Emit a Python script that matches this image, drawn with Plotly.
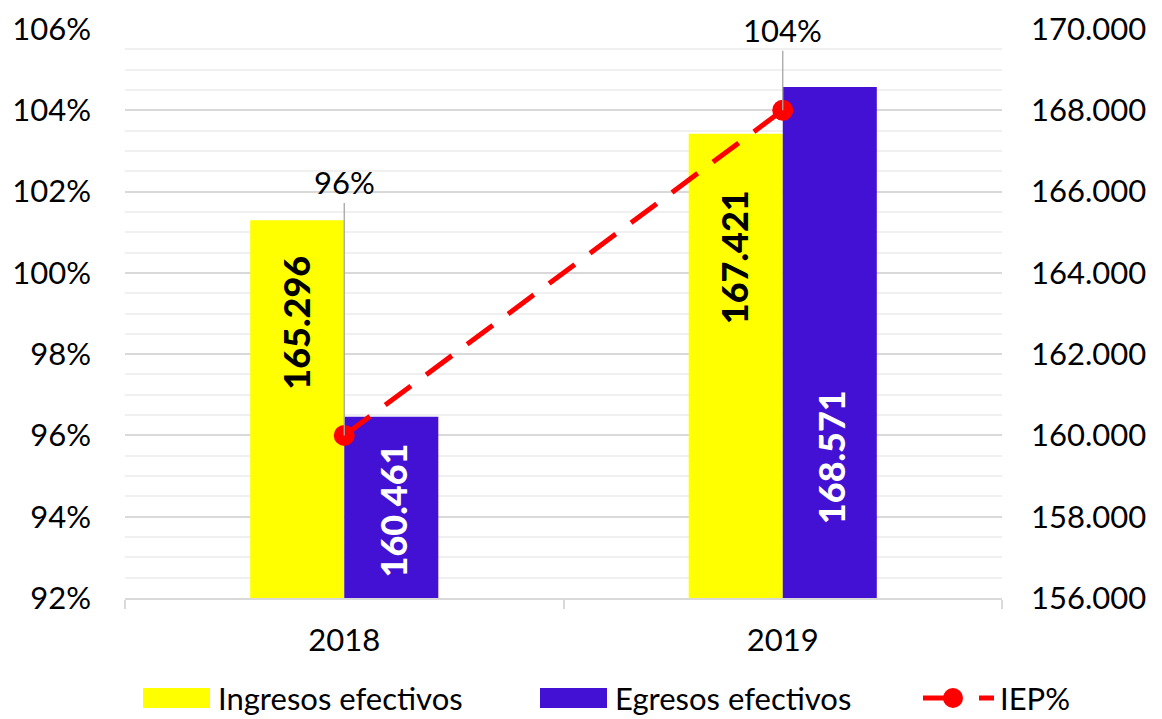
import plotly.graph_objects as go

years = ["2018", "2019"]
ingresos = [165296, 167421]
egresos = [160461, 168571]
iep = [0.96, 1.04]
iep_labels = ["96%", "104%"]

# label anchor positions (right-axis units) for the rotated bar labels
ing_label_pos = [162780, 164380]
egr_label_pos = [158160, 159460]

FONT = "Lato"
YELLOW = "#FFFF00"
BLUE = "#4311D3"
RED = "#FF0000"

fig = go.Figure()
fig.add_trace(go.Bar(x=years, y=ingresos, name="Ingresos efectivos", marker_color=YELLOW,
                     marker_line_width=0, yaxis="y"))
fig.add_trace(go.Bar(x=years, y=egresos, name="Egresos efectivos", marker_color=BLUE,
                     marker_line_width=0, yaxis="y"))
fig.add_trace(go.Scatter(x=years, y=iep, name="IEP%", mode="lines+markers", yaxis="y2",
                         line=dict(color=RED, width=5, dash="32px,19px"),
                         marker=dict(color=RED, size=21)))

annotations = []
for i, yr in enumerate(years):
    annotations.append(dict(x=i, y=ing_label_pos[i], xref="x", yref="y", xshift=-48,
                            text=f"{ingresos[i]:,}".replace(",", "."), textangle=-90,
                            showarrow=False, font=dict(family=FONT, size=36, color="black", weight=900)))
    annotations.append(dict(x=i, y=egr_label_pos[i], xref="x", yref="y", xshift=49,
                            text=f"{egresos[i]:,}".replace(",", "."), textangle=-90,
                            showarrow=False, font=dict(family=FONT, size=36, color="white", weight=900)))
ays = [-253, -80]
for i, yr in enumerate(years):
    annotations.append(dict(x=i, y=iep[i], xref="x", yref="y2", text=iep_labels[i],
                            showarrow=True, arrowhead=0, ax=0, ay=ays[i], arrowwidth=1.3,
                            arrowcolor="#A6A6A6", standoff=0,
                            font=dict(family=FONT, size=31, color="black")))

# custom legend
def px_x(p):
    return (p - 125) / 877

def px_y(p):
    return (598 - p) / 569

LY = 698
shapes = []
shapes.append(dict(type="rect", xref="paper", yref="paper", x0=px_x(143), x1=px_x(210),
                   y0=px_y(LY + 10), y1=px_y(LY - 10), fillcolor=YELLOW, line_width=0))
shapes.append(dict(type="rect", xref="paper", yref="paper", x0=px_x(540), x1=px_x(607),
                   y0=px_y(LY + 10), y1=px_y(LY - 10), fillcolor=BLUE, line_width=0))
shapes.append(dict(type="line", xref="paper", yref="paper", x0=px_x(923), x1=px_x(955),
                   y0=px_y(LY), y1=px_y(LY), line=dict(color=RED, width=5)))
shapes.append(dict(type="line", xref="paper", yref="paper", x0=px_x(979), x1=px_x(994),
                   y0=px_y(LY), y1=px_y(LY), line=dict(color=RED, width=5)))
shapes.append(dict(type="circle", xref="paper", yref="paper", x0=px_x(943), x1=px_x(963),
                   y0=px_y(LY + 10), y1=px_y(LY - 10), fillcolor=RED, line_width=0))
for xpos, txt in [(216, "Ingresos efectivos"), (613, "Egresos efectivos"), (998, "IEP%")]:
    annotations.append(dict(x=px_x(xpos), y=px_y(LY), xref="paper", yref="paper", text=txt,
                            xanchor="left", yanchor="middle", showarrow=False,
                            font=dict(family=FONT, size=31, color="black")))

fig.update_layout(
    width=1162, height=719,
    margin=dict(l=125, r=160, t=29, b=121),
    paper_bgcolor="white", plot_bgcolor="white",
    separators=",.",
    barmode="group", bargap=0.571, bargroupgap=0,
    showlegend=False,
    font=dict(family=FONT, size=31, color="black"),
    xaxis=dict(type="category", range=[-0.5, 1.5], automargin=False, showline=True,
               linecolor="#D9D9D9", linewidth=1.5,
               ticks="outside", tickson="boundaries", ticklen=9, tickcolor="#D9D9D9",
               tickwidth=1.5, showgrid=False, ticklabelstandoff=14,
               tickfont=dict(family=FONT, size=31, color="black")),
    yaxis=dict(side="right", range=[156000, 170000], dtick=2000, tickformat=",d",
               automargin=False, showgrid=False, zeroline=False, showline=False,
               ticklabelstandoff=28,
               tickfont=dict(family=FONT, size=31, color="black")),
    yaxis2=dict(side="left", overlaying="y", range=[0.92, 1.06], dtick=0.02, tickformat=".0%",
                automargin=False, showgrid=True, gridcolor="#D9D9D9", gridwidth=1.5,
                zeroline=False, showline=False, ticklabelstandoff=33,
                minor=dict(dtick=0.005, showgrid=True, gridcolor="#F0F0F0", gridwidth=1.5),
                tickfont=dict(family=FONT, size=31, color="black")),
    annotations=annotations,
    shapes=shapes,
)

fig.write_html("out.html", config={"displayModeBar": False},
               post_script="document.body.style.margin='0';document.body.style.overflow='hidden';")
